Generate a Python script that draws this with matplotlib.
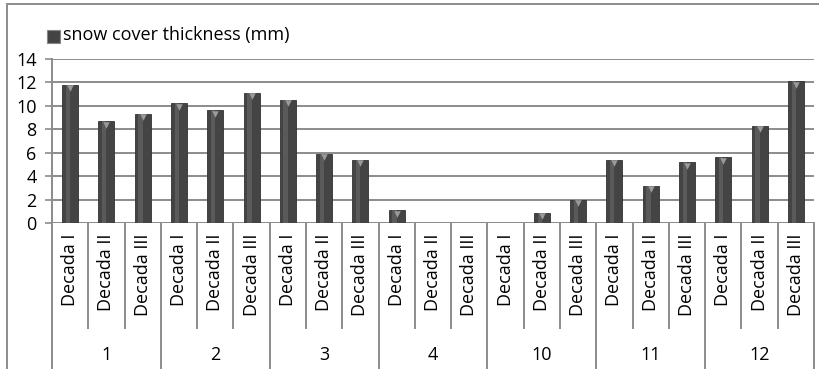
import numpy as np
import matplotlib

matplotlib.use('Agg')
import matplotlib.pyplot as plt
from matplotlib.patches import Rectangle

plt.rcParams['font.family'] = ['Open Sans', 'DejaVu Sans']

# snow cover thickness per decade, months 1-4 and 10-12
months = ['1', '2', '3', '4', '10', '11', '12']
decades = ['Decada I', 'Decada II', 'Decada III']
thickness = [11.8, 8.7, 9.3,
             10.2, 9.6, 11.1,
             10.5, 5.9, 5.4,
             1.1, 0.0, 0.0,
             0.0, 0.9, 2.0,
             5.4, 3.2, 5.2,
             5.6, 8.3, 12.1]
y_ticks = [0, 2, 4, 6, 8, 10, 12, 14]

grid_col = '#8c8c8c'
bar_col = '#444444'
fs = 13

fig = plt.figure(figsize=(8.2, 3.69), dpi=100)
ax = fig.add_axes([0.0634, 0.395, 0.9293, 0.446])

n = len(thickness)
x = np.arange(n)
ax.bar(x, thickness, width=0.44, color=bar_col, edgecolor='#333333', linewidth=0.6, zorder=3)
# light shading stripe to fake the cylinder look
ax.bar(x - 0.06, thickness, width=0.12, color='#5a5a5a', linewidth=0, zorder=3)
tops = [v for v in thickness if v > 0]
xt = [i for i, v in enumerate(thickness) if v > 0]
ax.scatter(xt, [v - 0.3 for v in tops], marker='v', s=22, color='#9a9a9a', linewidths=0, zorder=4)

ax.set_xlim(-0.5, n - 0.5)
ax.set_ylim(0, 14)
ax.set_yticks(y_ticks)
ax.set_yticklabels([str(t) for t in y_ticks], fontsize=fs)
ax.tick_params(axis='y', length=5, width=1.2, color=grid_col, pad=6)
ax.tick_params(axis='x', length=0, labelbottom=False)
ax.grid(axis='y', color=grid_col, linewidth=1.4, zorder=0)
for side in ['top', 'right', 'bottom']:
    ax.spines[side].set_visible(False)
ax.spines['left'].set_color(grid_col)
ax.spines['left'].set_linewidth(1.4)
ax.axhline(0, color=grid_col, linewidth=1.4, zorder=2)

# two-level category axis drawn below the plot
tr = ax.get_xaxis_transform()
ax_h = 0.446 * 369
def fy(px):
    # pixels below the zero line -> axes fraction
    return -px / ax_h

for i in range(n):
    ax.text(i, fy(10), decades[i % 3], rotation=90, ha='center', va='top',
            fontsize=fs, transform=tr, clip_on=False)
for b in range(n + 1):
    bottom = fy(150) if b % 3 == 0 else fy(105)
    ax.plot([b - 0.5, b - 0.5], [0, bottom], color=grid_col, linewidth=1.4,
            transform=tr, clip_on=False)
for m, name in enumerate(months):
    ax.text(3 * m + 1, fy(132), name, ha='center', va='center',
            fontsize=fs, transform=tr, clip_on=False)

# legend
fig.patches.append(Rectangle((47 / 820, 1 - 43 / 369), 13 / 820, 13 / 369,
                             transform=fig.transFigure, facecolor=bar_col,
                             edgecolor='#888888', linewidth=0.8))
fig.text(63 / 820, 1 - 35 / 369, 'snow cover thickness (mm)', fontsize=fs,
         va='center', ha='left')

# chart frame
fig.patches.append(Rectangle((7 / 820, -0.05), 1.0, 1 - 4 / 369 + 0.05,
                             transform=fig.transFigure, fill=False,
                             edgecolor=grid_col, linewidth=1.4))

fig.savefig('out.png', dpi=100)
